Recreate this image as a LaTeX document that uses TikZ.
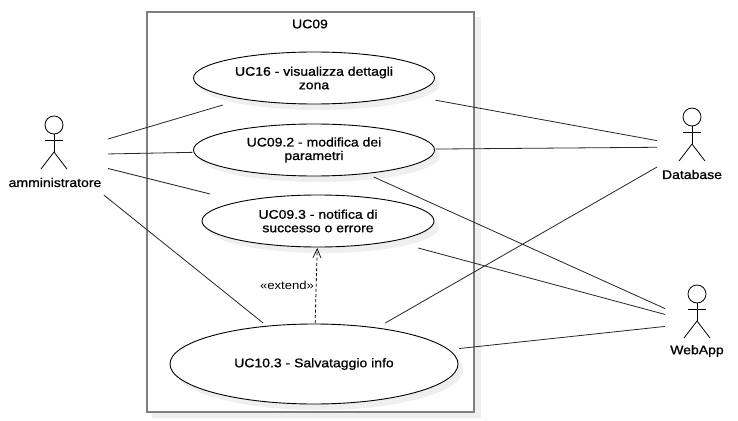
\documentclass[tikz,border=0pt]{standalone}
\usepackage{fontspec}
\setmainfont[FakeBold=0.9,FakeStretch=1.12]{Liberation Sans}
\newfontfamily\plainfont[FakeStretch=1.14]{Liberation Sans}
\usetikzlibrary{shapes.geometric,arrows.meta}
\definecolor{shadowgray}{HTML}{EFEFEF}
\definecolor{framegray}{HTML}{7F7F7F}
\tikzset{
  x=1pt,y=-1pt,
  ucshape/.style={ellipse,draw=black,line width=0.9pt,fill=white,inner sep=0pt},
  ucshadow/.style={ellipse,fill=shadowgray,draw=none,inner sep=0pt},
  ucbox/.style={rectangle,inner sep=0pt,outer sep=1pt,align=center,font=\fontsize{12.5}{13.5}\selectfont},
  actorbox/.style={rectangle,inner sep=0pt,outer sep=0pt},
  actorlabel/.style={inner sep=0pt,font=\fontsize{12.5}{14}\selectfont},
  limb/.style={line width=0.8pt,draw=black},
  assoc/.style={line width=0.8pt,draw=black!85},
  ext/.style={line width=0.8pt,draw=black,dash pattern=on 3pt off 2.2pt,-{Straight Barb[length=9pt,width=8pt,line width=0.7pt]}},
  framebox/.style={rectangle,draw=framegray,line width=2pt,fill=white,inner sep=0pt,minimum width=327pt,minimum height=399pt},
  frameshadow/.style={rectangle,fill=shadowgray,inner sep=0pt,minimum width=329pt,minimum height=401pt}
}
\newcommand{\actorfig}[2]{% x, head y
  \draw[limb] (#1,#2) circle[radius=9];
  \draw[limb] (#1,#2+9) -- (#1,#2+27);
  \draw[limb] (#1-9,#2+15.5) -- (#1+9,#2+15.5);
  \draw[limb] (#1-13,#2+44) -- (#1,#2+27) -- (#1+13,#2+44);
}
\newcommand{\usecase}[6]{% name, cx, cy, width, height, text
  \node[ucshadow,minimum width=#4pt,minimum height=#5pt] at (#2+5,#3+6) {};
  \node[ucshape,minimum width=#4pt,minimum height=#5pt] (#1shape) at (#2,#3) {};
  \node[ucbox,minimum width=#4pt,minimum height=#5pt] (#1) at (#2,#3) {#6};
}
\begin{document}
\begin{tikzpicture}
\useasboundingbox (0,0) rectangle (738,420);
\fill[white] (0,0) rectangle (738,420);
\node[frameshadow] at (316.5,217.5) {};
\node[framebox] (frame) at (310,212) {};
\node[font=\fontsize{12.5}{14}\selectfont,inner sep=0pt] (frametitle) at (310,24) {UC09};

\usecase{uca}{314}{78}{241}{52}{UC16 - visualizza dettagli\\zona}
\usecase{ucb}{314}{150}{241}{52}{UC09.2 - modifica dei\\parametri}
\usecase{ucc}{318}{221}{232}{52}{UC09.3 - notifica di\\successo o errore}
\usecase{ucd}{314}{364}{288}{80}{UC10.3 - Salvataggio info}

\actorfig{54}{125}
\actorfig{692}{117}
\actorfig{697}{294}
\node[actorbox,minimum width=108pt,minimum height=80pt] (admin) at (54,155) {};
\node[actorbox,minimum width=70pt,minimum height=64pt] (db) at (692,147) {};
\node[actorbox,minimum width=64pt,minimum height=64pt] (web) at (697,323) {};
\node[actorlabel] (adminlabel) at (55,182.5) {amministratore};
\node[actorlabel] (dblabel) at (692,174.5) {Database};
\node[actorlabel] (weblabel) at (697,351) {WebApp};

\draw[assoc] (admin) -- (uca);
\draw[assoc] (admin) -- (ucb);
\draw[assoc] (admin) -- (ucc);
\draw[assoc] (admin) -- (ucd);
\draw[assoc] (uca) -- (db);
\draw[assoc] (ucb) -- (db);
\draw[assoc] (ucd) -- (db);
\draw[assoc] (ucb) -- (web);
\draw[assoc] (ucc) -- (web);
\draw[assoc] (ucd) -- (web);
\draw[ext] (ucd) -- (ucc);
\node[inner sep=0pt,font=\plainfont\fontsize{11.5}{13}\selectfont] (extlabel) at (287,285) {«extend»};
\end{tikzpicture}
\end{document}
